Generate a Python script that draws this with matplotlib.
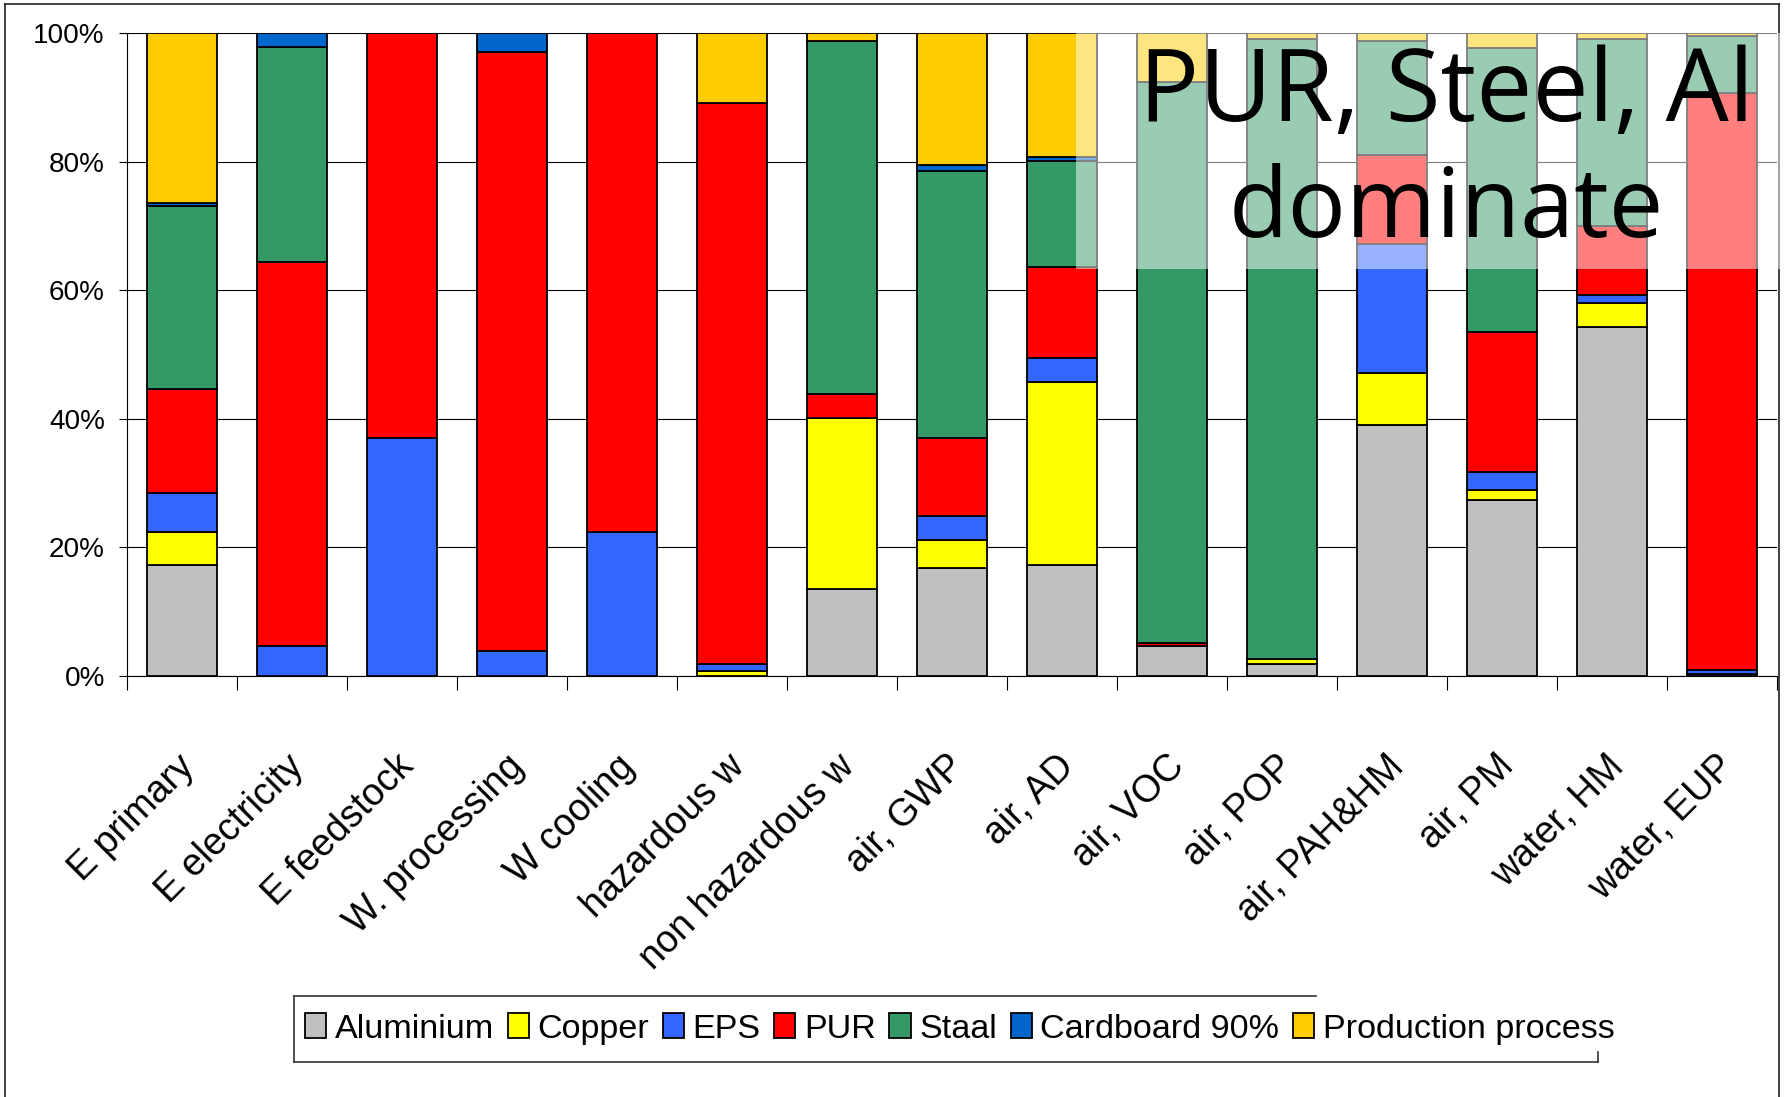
import numpy as np
import matplotlib
matplotlib.use('Agg')
import matplotlib.pyplot as plt
from matplotlib import font_manager
from matplotlib.patches import Rectangle
from matplotlib.lines import Line2D
from matplotlib.transforms import ScaledTranslation

#---    Data (shares in %)
categories = ['E primary', 'E electricity', 'E feedstock', 'W. processing', 'W cooling',
              'hazardous w', 'non hazardous w', 'air, GWP', 'air, AD', 'air, VOC',
              'air, POP', 'air, PAH&HM', 'air, PM', 'water, HM', 'water, EUP']

aluminium  = [17.2, 0.0, 0.0, 0.0, 0.0, 0.0, 13.6, 16.8, 17.2, 4.7, 1.8, 39.0, 27.3, 54.2, 0.3]
copper     = [5.2, 0.0, 0.0, 0.0, 0.0, 0.7, 26.5, 4.4, 28.6, 0.0, 0.8, 8.1, 1.6, 3.8, 0.0]
eps        = [6.1, 4.7, 37.0, 3.9, 22.4, 1.1, 0.0, 3.7, 3.7, 0.0, 0.0, 20.1, 2.9, 1.2, 0.6]
pur        = [16.2, 59.7, 63.0, 93.2, 77.6, 87.3, 3.8, 12.1, 14.1, 0.5, 0.0, 13.8, 21.7, 10.8, 89.8]
staal      = [28.4, 33.5, 0.0, 0.0, 0.0, 0.0, 54.8, 41.5, 16.5, 87.2, 96.4, 17.7, 44.1, 29.1, 8.8]
cardboard  = [0.5, 2.1, 0.0, 2.9, 0.0, 0.0, 0.0, 0.9, 0.6, 0.0, 0.0, 0.0, 0.0, 0.0, 0.0]
production = [26.4, 0.0, 0.0, 0.0, 0.0, 10.9, 1.3, 20.6, 19.3, 7.6, 1.0, 1.3, 2.4, 0.9, 0.5]

series_names = ['Aluminium', 'Copper', 'EPS', 'PUR', 'Staal', 'Cardboard 90%', 'Production process']
series_colors = ['#C0C0C0', '#FFFF00', '#3366FF', '#FF0000', '#339966', '#0066CC', '#FFCC00']
series = [aluminium, copper, eps, pur, staal, cardboard, production]

#---    Fonts
try:
    font_manager.findfont('Liberation Sans Narrow', fallback_to_default=False)
    fam = 'Liberation Sans Narrow'
    scale = 1.0
except Exception:
    fam = 'Liberation Sans'
    scale = 0.82
plt.rcParams['font.family'] = [fam, 'DejaVu Sans']

#---    Graph
W, H = 1785, 1097
fig = plt.figure(figsize=(W / 100, H / 100), dpi=100)
ax = fig.add_axes([127 / W, 1 - 676 / H, (1777 - 127) / W, (676 - 33) / H])

x = np.arange(len(categories)) + 0.5
bottom = np.zeros(len(categories))
for vals, name, col in zip(series, series_names, series_colors):
    vals = np.array(vals)
    ax.bar(x, vals, width=0.63, bottom=bottom, color=col, edgecolor='black',
           linewidth=1.3, label=name, zorder=3)
    bottom += vals

ax.set_xlim(0, len(categories))
ax.set_ylim(0, 100)
ax.set_yticks(np.arange(0, 101, 20))
ax.set_yticklabels([f'{v}%' for v in range(0, 101, 20)], fontsize=24.5 * scale)
ax.tick_params(axis='y', direction='out', length=6, width=0.8, pad=10)
ax.grid(axis='y', color='black', linewidth=0.8, zorder=0)

ax.set_xticks(x)
ax.set_xticklabels(categories, fontsize=33 * scale, rotation=45, ha='right',
                   va='top', rotation_mode='anchor')
ax.tick_params(axis='x', which='major', length=0, pad=52)
shift = ScaledTranslation(-6 / 100, 0, fig.dpi_scale_trans)
for lbl in ax.get_xticklabels():
    lbl.set_transform(lbl.get_transform() + shift)
ax.set_xticks(np.arange(0, len(categories) + 1), minor=True)
ax.tick_params(axis='x', which='minor', direction='out', length=10, width=0.8)

for s in ['top', 'right']:
    ax.spines[s].set_visible(False)
for s in ['left', 'bottom']:
    ax.spines[s].set_linewidth(0.8)

#---    Legend
leg = ax.legend(loc='center left', bbox_to_anchor=(305 / W, 1 - 1029 / H),
                bbox_transform=fig.transFigure, ncol=7, frameon=False,
                fontsize=30 * scale, handlelength=0.62, handleheight=0.75,
                handletextpad=0.25, columnspacing=0.4, borderaxespad=0,
                borderpad=0)
for h in leg.legend_handles:
    h.set_linewidth(1.3)

# odd Excel-style legend frame
frame_lines = [((294, 294), (996, 1062)), ((294, 1316), (996, 996)),
               ((294, 1598), (1062, 1062)), ((1598, 1598), (1052, 1062))]
for (xs, ys) in frame_lines:
    fig.add_artist(Line2D([v / W for v in xs], [1 - v / H for v in ys],
                          color='#333333', linewidth=1.2))

# chart area border
for (xs, ys) in [((5, 5), (4, 1097)), ((5, 1779), (4, 4)), ((1779, 1779), (4, 1097))]:
    fig.add_artist(Line2D([v / W for v in xs], [1 - v / H for v in ys],
                          color='#222222', linewidth=1.2))

#---    Annotation box
fig.add_artist(Rectangle((1076 / W, 1 - 269 / H), (1780 - 1076) / W, (269 - 33) / H,
                         transform=fig.transFigure, facecolor='white', alpha=0.5,
                         edgecolor='none', zorder=5))
fig.text(1446 / W, 1 - 121 / H, 'PUR, Steel, Al', ha='center', va='baseline',
         fontsize=72, family=['Open Sans', 'DejaVu Sans'], zorder=6)
fig.text(1446 / W, 1 - 237 / H, 'dominate', ha='center', va='baseline',
         fontsize=70, family=['Open Sans', 'DejaVu Sans'], zorder=6)

fig.savefig('out.png', dpi=100, facecolor='white')
